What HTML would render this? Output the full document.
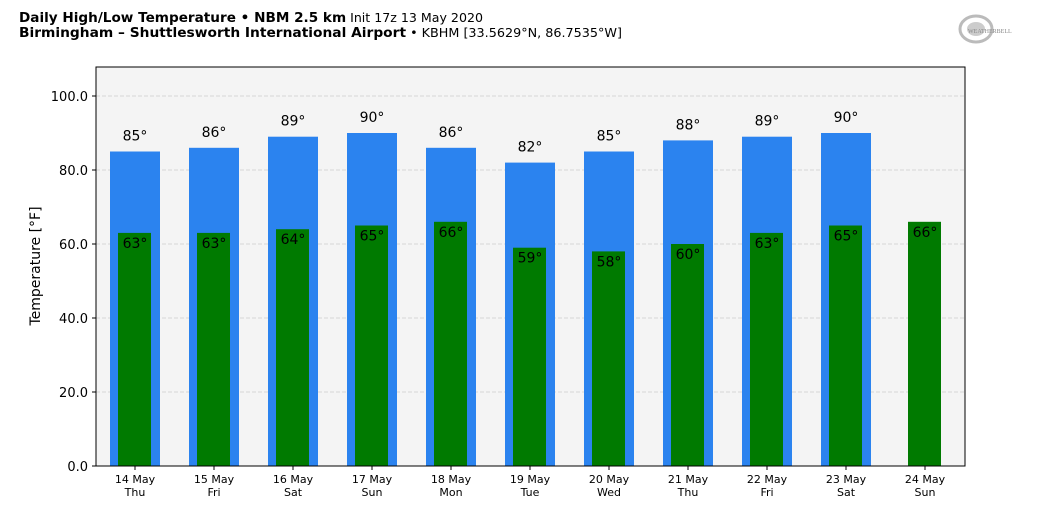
<!DOCTYPE html>
<html><head><style>body{margin:0;background:#fff}svg{display:block}</style></head><body>
<svg width="1040" height="516" xmlns="http://www.w3.org/2000/svg" font-family="DejaVu Sans, Liberation Sans, sans-serif">
<text x="19" y="22" font-size="13.5" textLength="464" lengthAdjust="spacingAndGlyphs"><tspan font-weight="bold">Daily High/Low Temperature • NBM 2.5 km</tspan><tspan font-size="12.5"> Init 17z 13 May 2020</tspan></text>
<text x="19" y="37" font-size="13.5" textLength="603" lengthAdjust="spacingAndGlyphs"><tspan font-weight="bold">Birmingham – Shuttlesworth International Airport</tspan><tspan font-size="12.5"> • KBHM [33.5629°N, 86.7535°W]</tspan></text>
<ellipse cx="976" cy="29" rx="16" ry="13" fill="none" stroke="#bbb" stroke-width="3"/>
<ellipse cx="976" cy="29" rx="9" ry="7" fill="#ccc"/>
<text x="968" y="33" font-size="6" fill="#888" font-family="Liberation Serif, serif">WEATHERBELL</text>
<rect x="96" y="67" width="869" height="399" fill="#f4f4f4"/>
<g stroke="#ccc" stroke-dasharray="4,2" stroke-width="0.8">
<line x1="96" x2="965" y1="96" y2="96"/><line x1="96" x2="965" y1="170" y2="170"/><line x1="96" x2="965" y1="244" y2="244"/><line x1="96" x2="965" y1="318" y2="318"/><line x1="96" x2="965" y1="392" y2="392"/>
</g>
<g font-size="13" text-anchor="end">
<text x="88" y="101">100.0</text><text x="88" y="175">80.0</text><text x="88" y="249">60.0</text><text x="88" y="323">40.0</text><text x="88" y="397">20.0</text><text x="88" y="471">0.0</text>
</g>
<g stroke="#000"><line x1="92" x2="96" y1="96" y2="96"/><line x1="92" x2="96" y1="170" y2="170"/><line x1="92" x2="96" y1="244" y2="244"/><line x1="92" x2="96" y1="318" y2="318"/><line x1="92" x2="96" y1="392" y2="392"/><line x1="92" x2="96" y1="466" y2="466"/></g>
<text transform="translate(40,266) rotate(-90)" font-size="14" text-anchor="middle">Temperature [°F]</text>
<g fill="#2b83ef">
<rect x="110" y="151.5" width="50" height="314.5"/>
<rect x="189" y="147.8" width="50" height="318.2"/>
<rect x="268" y="136.7" width="50" height="329.3"/>
<rect x="347" y="133" width="50" height="333"/>
<rect x="426" y="147.8" width="50" height="318.2"/>
<rect x="505" y="162.6" width="50" height="303.4"/>
<rect x="584" y="151.5" width="50" height="314.5"/>
<rect x="663" y="140.4" width="50" height="325.6"/>
<rect x="742" y="136.7" width="50" height="329.3"/>
<rect x="821" y="133" width="50" height="333"/>
</g>
<g fill="#007a00">
<rect x="118" y="232.9" width="33" height="233.1"/>
<rect x="197" y="232.9" width="33" height="233.1"/>
<rect x="276" y="229.2" width="33" height="236.8"/>
<rect x="355" y="225.5" width="33" height="240.5"/>
<rect x="434" y="221.8" width="33" height="244.2"/>
<rect x="513" y="247.7" width="33" height="218.3"/>
<rect x="592" y="251.4" width="33" height="214.6"/>
<rect x="671" y="244" width="33" height="222"/>
<rect x="750" y="232.9" width="33" height="233.1"/>
<rect x="829" y="225.5" width="33" height="240.5"/>
<rect x="908" y="221.8" width="33" height="244.2"/>
</g>
<g font-size="14" text-anchor="middle">
<text x="135" y="140.5">85°</text><text x="214" y="136.8">86°</text><text x="293" y="125.7">89°</text><text x="372" y="122">90°</text><text x="451" y="136.8">86°</text><text x="530" y="151.6">82°</text><text x="609" y="140.5">85°</text><text x="688" y="129.4">88°</text><text x="767" y="125.7">89°</text><text x="846" y="122">90°</text>
<text x="135" y="247.9">63°</text><text x="214" y="247.9">63°</text><text x="293" y="244.2">64°</text><text x="372" y="240.5">65°</text><text x="451" y="236.8">66°</text><text x="530" y="262.7">59°</text><text x="609" y="266.4">58°</text><text x="688" y="259">60°</text><text x="767" y="247.9">63°</text><text x="846" y="240.5">65°</text><text x="925" y="236.8">66°</text>
</g>
<g stroke="#000">
<line x1="135" x2="135" y1="466" y2="470"/><line x1="214" x2="214" y1="466" y2="470"/><line x1="293" x2="293" y1="466" y2="470"/><line x1="372" x2="372" y1="466" y2="470"/><line x1="451" x2="451" y1="466" y2="470"/><line x1="530" x2="530" y1="466" y2="470"/><line x1="609" x2="609" y1="466" y2="470"/><line x1="688" x2="688" y1="466" y2="470"/><line x1="767" x2="767" y1="466" y2="470"/><line x1="846" x2="846" y1="466" y2="470"/><line x1="925" x2="925" y1="466" y2="470"/>
</g>
<g font-size="11" text-anchor="middle">
<text x="135" y="483">14 May</text><text x="214" y="483">15 May</text><text x="293" y="483">16 May</text><text x="372" y="483">17 May</text><text x="451" y="483">18 May</text><text x="530" y="483">19 May</text><text x="609" y="483">20 May</text><text x="688" y="483">21 May</text><text x="767" y="483">22 May</text><text x="846" y="483">23 May</text><text x="925" y="483">24 May</text>
<text x="135" y="496">Thu</text><text x="214" y="496">Fri</text><text x="293" y="496">Sat</text><text x="372" y="496">Sun</text><text x="451" y="496">Mon</text><text x="530" y="496">Tue</text><text x="609" y="496">Wed</text><text x="688" y="496">Thu</text><text x="767" y="496">Fri</text><text x="846" y="496">Sat</text><text x="925" y="496">Sun</text>
</g>
<rect x="96" y="67" width="869" height="399" fill="none" stroke="#000"/>
</svg>
</body></html>
